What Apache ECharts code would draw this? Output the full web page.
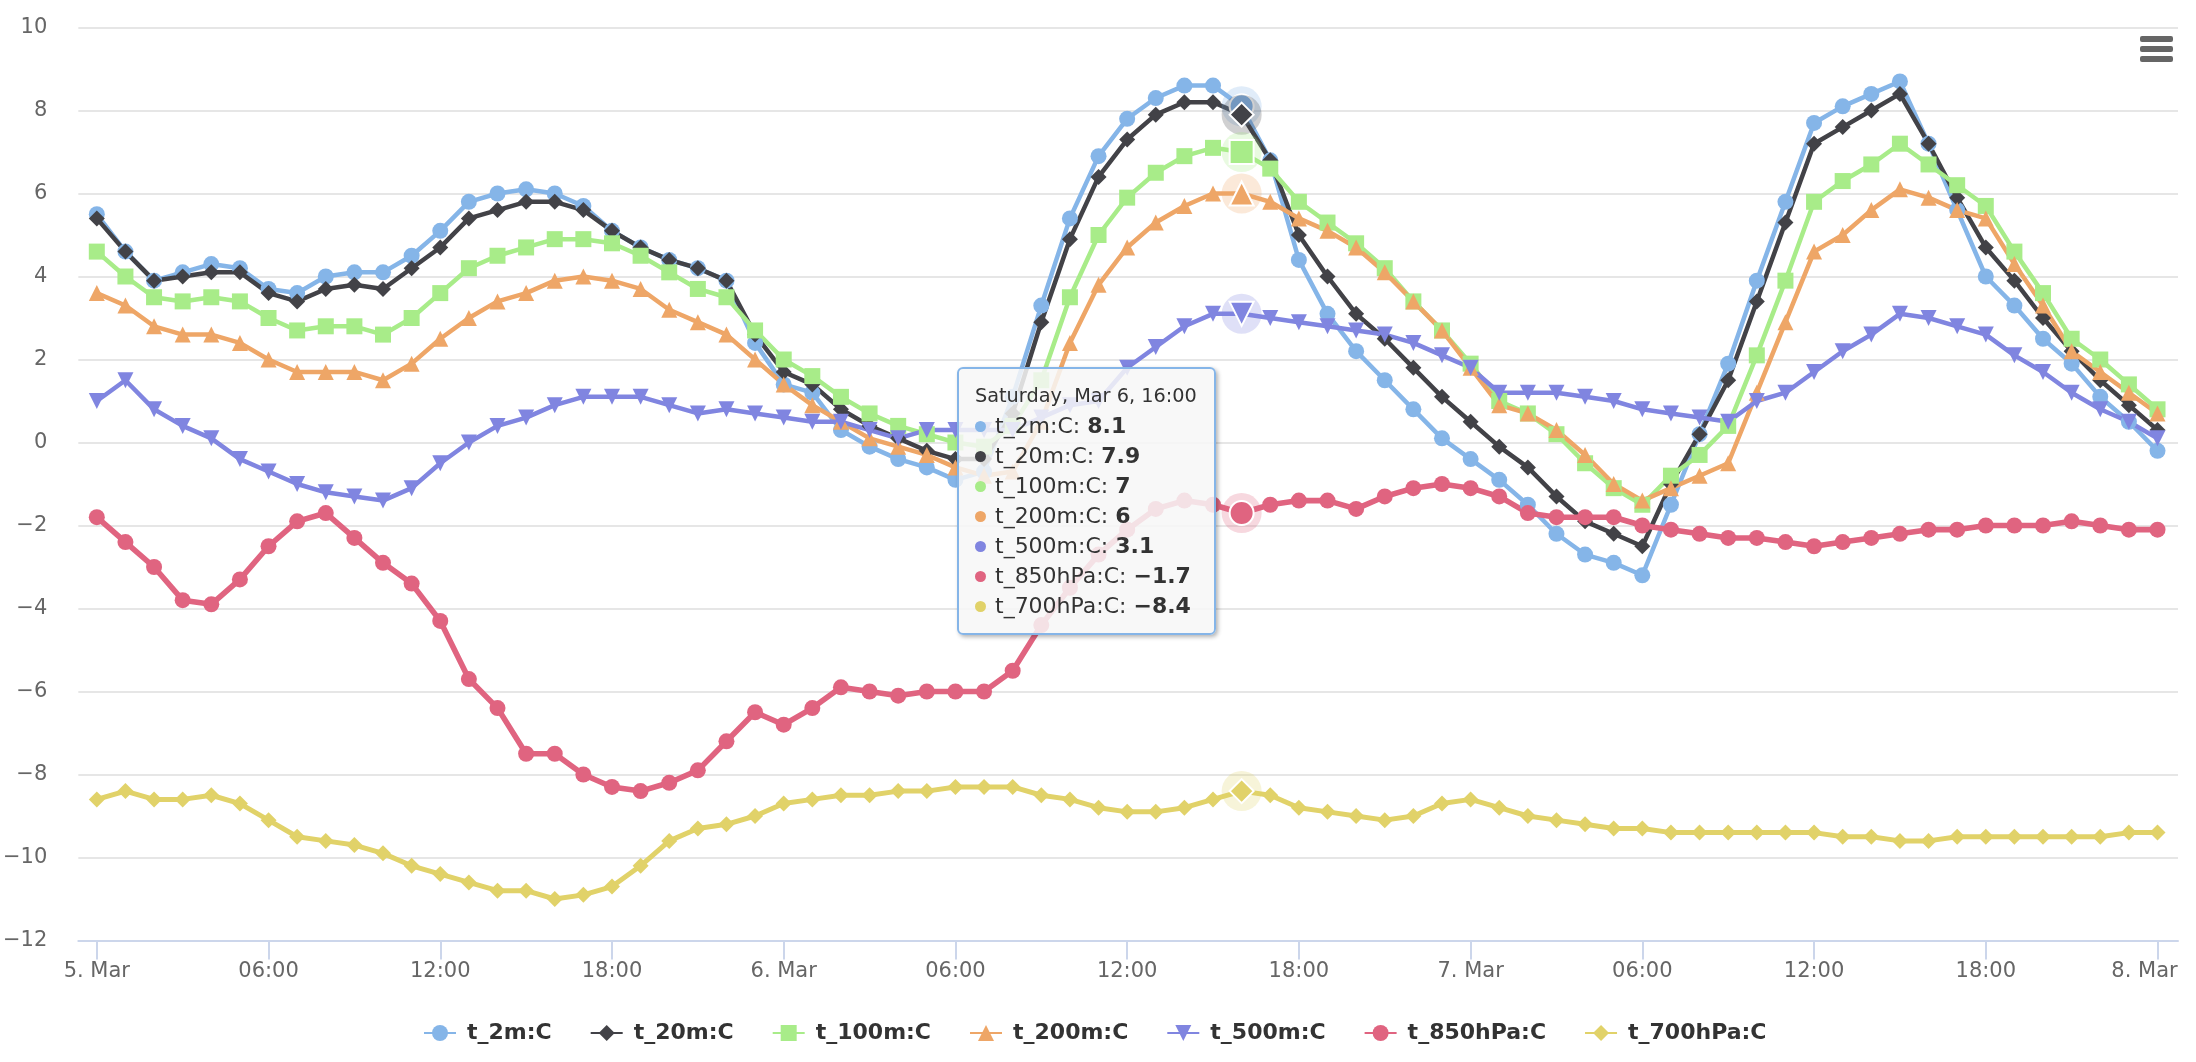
<!DOCTYPE html>
<html>
<head>
<meta charset="utf-8">
<title>Temperature</title>
<script src="https://cdn.jsdelivr.net/npm/echarts@6/dist/echarts.min.js"></script>
<style>
  html, body { margin: 0; padding: 0; background: #fff; }
  #chart { width: 2196px; height: 1062px; }
</style>
</head>
<body>
<div id="chart"></div>
<script>
const t2m = [
  5.5, 4.6, 3.9, 4.1, 4.3, 4.2, 3.7, 3.6, 4.0, 4.1,
  4.1, 4.5, 5.1, 5.8, 6.0, 6.1, 6.0, 5.7, 5.1, 4.7,
  4.4, 4.2, 3.9, 2.4, 1.4, 1.2, 0.3, -0.1, -0.4, -0.6,
  -0.9, -0.7, 1.1, 3.3, 5.4, 6.9, 7.8, 8.3, 8.6, 8.6,
  8.1, 6.8, 4.4, 3.1, 2.2, 1.5, 0.8, 0.1, -0.4, -0.9,
  -1.5, -2.2, -2.7, -2.9, -3.2, -1.5, 0.2, 1.9, 3.9, 5.8,
  7.7, 8.1, 8.4, 8.7, 7.2, 5.6, 4.0, 3.3, 2.5, 1.9,
  1.1, 0.5, -0.2
]
const t20m = [
  5.4, 4.6, 3.9, 4.0, 4.1, 4.1, 3.6, 3.4, 3.7, 3.8,
  3.7, 4.2, 4.7, 5.4, 5.6, 5.8, 5.8, 5.6, 5.1, 4.7,
  4.4, 4.2, 3.9, 2.6, 1.7, 1.4, 0.8, 0.4, 0.1, -0.2,
  -0.4, -0.4, 0.7, 2.9, 4.9, 6.4, 7.3, 7.9, 8.2, 8.2,
  7.9, 6.8, 5.0, 4.0, 3.1, 2.5, 1.8, 1.1, 0.5, -0.1,
  -0.6, -1.3, -1.9, -2.2, -2.5, -1.0, 0.2, 1.5, 3.4, 5.3,
  7.2, 7.6, 8.0, 8.4, 7.2, 5.9, 4.7, 3.9, 3.0, 2.2,
  1.5, 0.9, 0.3
]
const t100m = [
  4.6, 4.0, 3.5, 3.4, 3.5, 3.4, 3.0, 2.7, 2.8, 2.8,
  2.6, 3.0, 3.6, 4.2, 4.5, 4.7, 4.9, 4.9, 4.8, 4.5,
  4.1, 3.7, 3.5, 2.7, 2.0, 1.6, 1.1, 0.7, 0.4, 0.2,
  0.0, -0.1, 0.4, 1.5, 3.5, 5.0, 5.9, 6.5, 6.9, 7.1,
  7.0, 6.6, 5.8, 5.3, 4.8, 4.2, 3.4, 2.7, 1.9, 1.0,
  0.7, 0.2, -0.5, -1.1, -1.5, -0.8, -0.3, 0.4, 2.1, 3.9,
  5.8, 6.3, 6.7, 7.2, 6.7, 6.2, 5.7, 4.6, 3.6, 2.5,
  2.0, 1.4, 0.8
]
const t200m = [
  3.6, 3.3, 2.8, 2.6, 2.6, 2.4, 2.0, 1.7, 1.7, 1.7,
  1.5, 1.9, 2.5, 3.0, 3.4, 3.6, 3.9, 4.0, 3.9, 3.7,
  3.2, 2.9, 2.6, 2.0, 1.4, 0.9, 0.5, 0.1, -0.1, -0.3,
  -0.6, -0.8, -0.7, 0.5, 2.4, 3.8, 4.7, 5.3, 5.7, 6.0,
  6.0, 5.8, 5.4, 5.1, 4.7, 4.1, 3.4, 2.7, 1.8, 0.9,
  0.7, 0.3, -0.3, -1.0, -1.4, -1.1, -0.8, -0.5, 1.2, 2.9,
  4.6, 5.0, 5.6, 6.1, 5.9, 5.6, 5.4, 4.3, 3.3, 2.2,
  1.7, 1.2, 0.7
]
const t500m = [
  1.0, 1.5, 0.8, 0.4, 0.1, -0.4, -0.7, -1.0, -1.2, -1.3,
  -1.4, -1.1, -0.5, 0.0, 0.4, 0.6, 0.9, 1.1, 1.1, 1.1,
  0.9, 0.7, 0.8, 0.7, 0.6, 0.5, 0.5, 0.3, 0.1, 0.3,
  0.3, 0.3, 0.3, 0.6, 0.9, 1.0, 1.8, 2.3, 2.8, 3.1,
  3.1, 3.0, 2.9, 2.8, 2.7, 2.6, 2.4, 2.1, 1.8, 1.2,
  1.2, 1.2, 1.1, 1.0, 0.8, 0.7, 0.6, 0.5, 1.0, 1.2,
  1.7, 2.2, 2.6, 3.1, 3.0, 2.8, 2.6, 2.1, 1.7, 1.2,
  0.8, 0.5, 0.1
]
const t850hPa = [
  -1.8, -2.4, -3.0, -3.8, -3.9, -3.3, -2.5, -1.9, -1.7, -2.3,
  -2.9, -3.4, -4.3, -5.7, -6.4, -7.5, -7.5, -8.0, -8.3, -8.4,
  -8.2, -7.9, -7.2, -6.5, -6.8, -6.4, -5.9, -6.0, -6.1, -6.0,
  -6.0, -6.0, -5.5, -4.4, -3.5, -2.7, -2.1, -1.6, -1.4, -1.5,
  -1.7, -1.5, -1.4, -1.4, -1.6, -1.3, -1.1, -1.0, -1.1, -1.3,
  -1.7, -1.8, -1.8, -1.8, -2.0, -2.1, -2.2, -2.3, -2.3, -2.4,
  -2.5, -2.4, -2.3, -2.2, -2.1, -2.1, -2.0, -2.0, -2.0, -1.9,
  -2.0, -2.1, -2.1
]
const t700hPa = [
  -8.6, -8.4, -8.6, -8.6, -8.5, -8.7, -9.1, -9.5, -9.6, -9.7,
  -9.9, -10.2, -10.4, -10.6, -10.8, -10.8, -11.0, -10.9, -10.7, -10.2,
  -9.6, -9.3, -9.2, -9.0, -8.7, -8.6, -8.5, -8.5, -8.4, -8.4,
  -8.3, -8.3, -8.3, -8.5, -8.6, -8.8, -8.9, -8.9, -8.8, -8.6,
  -8.4, -8.5, -8.8, -8.9, -9.0, -9.1, -9.0, -8.7, -8.6, -8.8,
  -9.0, -9.1, -9.2, -9.3, -9.3, -9.4, -9.4, -9.4, -9.4, -9.4,
  -9.4, -9.5, -9.5, -9.6, -9.6, -9.5, -9.5, -9.5, -9.5, -9.5,
  -9.5, -9.4, -9.4
]

const seriesNames = ['t_2m:C', 't_20m:C', 't_100m:C', 't_200m:C', 't_500m:C', 't_850hPa:C', 't_700hPa:C']
const seriesValues = [t2m, t20m, t100m, t200m, t500m, t850hPa, t700hPa]
const seriesColors = ['#85b5e8', '#424247', '#a8ec89', '#eea667', '#8085e0', '#e06480', '#e1d269']
const seriesSymbols = ['circle', 'diamond', 'rect', 'triangle', 'triangle', 'circle', 'diamond']
const seriesRotate = [0, 0, 0, 0, 180, 0, 0]
const seriesLineWidths = [4.5, 4.5, 4.5, 4.5, 4.5, 5.6, 5]

// x is hours since 5 Mar 00:00
const xTickHours = [0, 6, 12, 18, 24, 30, 36, 42, 48, 54, 60, 66, 72]
const xTickLabels = ['5. Mar', '06:00', '12:00', '18:00', '6. Mar', '06:00', '12:00', '18:00', '7. Mar', '06:00', '12:00', '18:00', '8. Mar']

const tipIndex = 40
const tipTitle = 'Saturday, Mar 6, 16:00'

const minus = v => String(v).replace('-', '\u2212')
const font = '"DejaVu Sans", sans-serif'

const tipFormatter = params => {
  const rows = params.map(p => `
    <div style="height:30px;line-height:30px;white-space:nowrap;">
      <span style="display:inline-block;width:11px;height:11px;border-radius:50%;background:${seriesColors[p.seriesIndex]};margin-right:9px;vertical-align:1px;"></span>${p.seriesName}: <b>${minus(p.value[1])}</b>
    </div>`).join('')
  return `<div style="height:30px;line-height:30px;font-size:19.3px;">${tipTitle}</div>${rows}`
}

const chart = echarts.init(document.getElementById('chart'), null, { renderer: 'canvas' })

chart.setOption({
  animation: false,
  backgroundColor: '#fff',
  textStyle: { fontFamily: font },
  grid: { left: 76.5, right: 18, top: 27.5, bottom: 121.5 },
  legend: {
    left: 418,
    top: 1017,
    itemWidth: 32,
    itemHeight: 20,
    itemGap: 38,
    data: seriesNames,
    textStyle: {
      fontFamily: font,
      fontSize: 22,
      fontWeight: 'bold',
      color: '#333',
      padding: [0, 0, 0, 6]
    }
  },
  tooltip: {
    trigger: 'axis',
    alwaysShowContent: true,
    axisPointer: { type: 'none' },
    position: [957, 367],
    padding: [12, 14, 7, 16],
    backgroundColor: 'rgba(247,247,247,0.85)',
    borderColor: '#85b5e8',
    borderWidth: 2,
    borderRadius: 6,
    textStyle: { fontFamily: font, fontSize: 22, color: '#333' },
    extraCssText: 'box-shadow:2px 2px 4px rgba(0,0,0,0.3);width:225px;height:245px;box-sizing:content-box;',
    formatter: tipFormatter
  },
  xAxis: {
    type: 'value',
    min: -0.646,
    max: 72.716,
    axisLine: { onZero: false, lineStyle: { color: '#ccd6eb', width: 2 } },
    axisTick: { length: 19, customValues: xTickHours, lineStyle: { color: '#ccd6eb', width: 2 } },
    axisLabel: {
      customValues: xTickHours,
      hideOverlap: false,
      margin: 21,
      color: '#666',
      fontSize: 21,
      fontFamily: font,
      // highcharts pulls the last label back inside the plot
      formatter: value => {
        const i = xTickHours.indexOf(value)
        return i === xTickHours.length - 1 ? `{last|${xTickLabels[i]}}` : xTickLabels[i]
      },
      rich: { last: { padding: [0, 26, 0, 0], color: '#666', fontSize: 21, fontFamily: font } }
    },
    splitLine: { show: false }
  },
  yAxis: {
    type: 'value',
    min: -12,
    max: 10,
    interval: 2,
    axisLine: { show: false },
    axisTick: { show: false },
    axisLabel: {
      margin: 31,
      color: '#666',
      fontSize: 21,
      fontFamily: font,
      formatter: minus
    },
    splitLine: { lineStyle: { color: '#e6e6e6', width: 2 } }
  },
  series: seriesNames.map((name, i) => {
    const values = seriesValues[i]
    const tipPoint = [tipIndex, values[tipIndex]]
    return {
      name,
      type: 'line',
      data: values.map((v, h) => [h, v]),
      symbol: seriesSymbols[i],
      symbolRotate: seriesRotate[i],
      symbolSize: 16,
      showAllSymbol: true,
      lineStyle: { width: seriesLineWidths[i], color: seriesColors[i] },
      itemStyle: { color: seriesColors[i] },
      emphasis: { disabled: true },
      markPoint: {
        silent: true,
        label: { show: false },
        data: [
          {
            coord: tipPoint,
            symbol: 'circle',
            symbolSize: 40,
            itemStyle: { color: seriesColors[i], opacity: 0.25 }
          },
          {
            coord: tipPoint,
            symbol: seriesSymbols[i],
            symbolRotate: seriesRotate[i],
            symbolSize: 24,
            itemStyle: { color: seriesColors[i], borderColor: '#fff', borderWidth: 2 }
          }
        ]
      }
    }
  }),
  graphic: [36, 46, 56].map(y => ({
    type: 'rect',
    shape: { x: 2140, y, width: 33, height: 6, r: 2 },
    style: { fill: '#666' }
  }))
})

chart.dispatchAction({ type: 'showTip', seriesIndex: 0, dataIndex: tipIndex })
</script>
</body>
</html>
